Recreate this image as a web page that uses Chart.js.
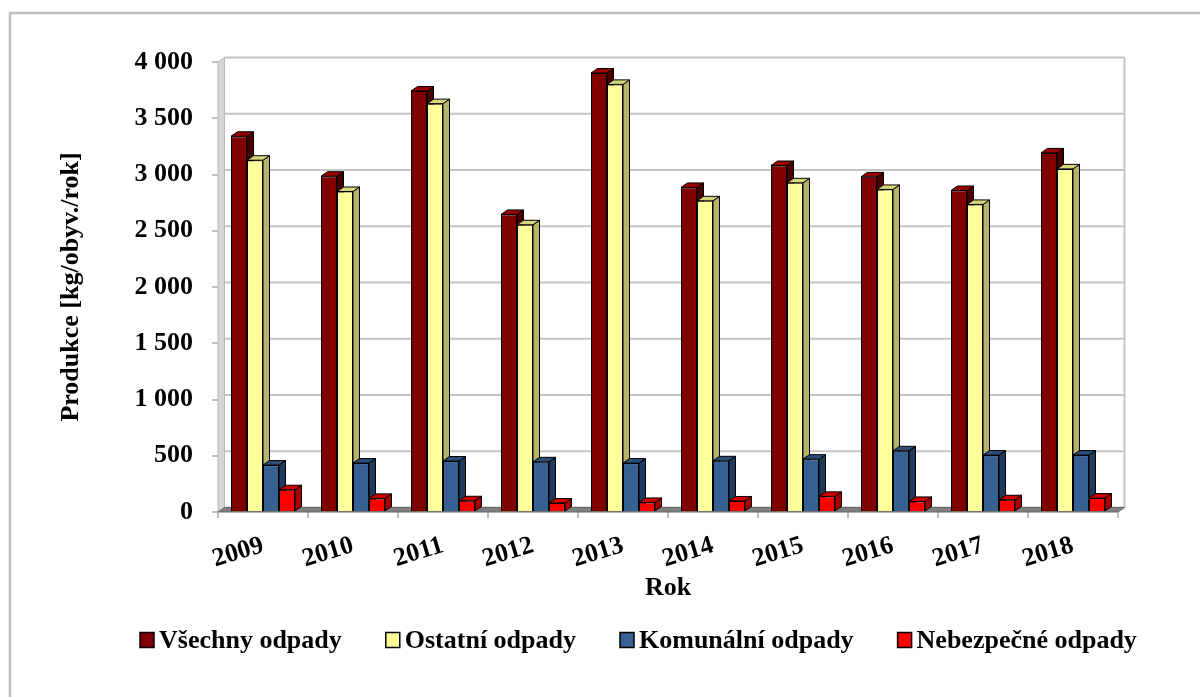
<!DOCTYPE html>
<html>
<head>
<meta charset="utf-8">
<script src="https://cdn.jsdelivr.net/npm/chart.js@4"></script>
<style>
  html, body { margin: 0; padding: 0; background: #ffffff; }
  #wrap { width: 1200px; height: 697px; position: relative; }
</style>
</head>
<body>
<div id="wrap"><canvas id="c"></canvas></div>
<script>
// data
const years = ['2009', '2010', '2011', '2012', '2013', '2014', '2015', '2016', '2017', '2018'];
const vsechny = [3340, 2985, 3742, 2645, 3902, 2885, 3080, 2979, 2858, 3192];
const ostatni = [3127, 2849, 3630, 2553, 3801, 2766, 2926, 2867, 2734, 3050];
const komunalni = [417, 435, 453, 446, 435, 455, 470, 544, 506, 506];
const nebezpecne = [198, 121, 100, 80, 85, 98, 139, 94, 109, 124];
const seriesNames = ['Všechny odpady', 'Ostatní odpady', 'Komunální odpady', 'Nebezpečné odpady'];
const yTicks = [0, 500, 1000, 1500, 2000, 2500, 3000, 3500, 4000];

const FONT = '"Liberation Serif", "Times New Roman", serif';
const FRONT = ['#800000', '#ffff99', '#376092', '#ff0000'];
const SIDE  = ['#4a0000', '#b4b46a', '#1f3a5c', '#a80000'];
const TOP   = ['#9a0000', '#d6d67e', '#2d4e78', '#d00000'];
const DX = 6.5, DY = 4.5;
const GRID = '#c4c4c4';

function fmt(v) {
  return String(v).replace(/\B(?=(\d{3})+(?!\d))/g, ' ');
}

function poly(ctx, pts, fill) {
  ctx.beginPath();
  ctx.moveTo(pts[0][0], pts[0][1]);
  for (let i = 1; i < pts.length; i++) ctx.lineTo(pts[i][0], pts[i][1]);
  ctx.closePath();
  ctx.fillStyle = fill;
  ctx.fill();
  ctx.stroke();
}

// back wall, floor and the depth faces of the bars
const bar3d = {
  id: 'bar3d',
  beforeDatasetsDraw(chart) {
    const { ctx, chartArea: a, scales: { y } } = chart;
    ctx.save();

    // gridlines on the back wall
    ctx.strokeStyle = GRID;
    ctx.lineWidth = 2;
    yTicks.forEach(v => {
      const py = y.getPixelForValue(v) - DY;
      ctx.beginPath();
      ctx.moveTo(a.left + DX, py);
      ctx.lineTo(a.right + DX, py);
      ctx.stroke();
    });
    ctx.beginPath();
    ctx.moveTo(a.right + DX, y.getPixelForValue(4000) - DY);
    ctx.lineTo(a.right + DX, y.getPixelForValue(0) - DY);
    ctx.stroke();

    // left wall
    const yt = y.getPixelForValue(4000), yb = y.getPixelForValue(0);
    ctx.lineWidth = 1;
    ctx.strokeStyle = '#b8b8b8';
    poly(ctx, [[a.left, yt], [a.left + DX, yt - DY], [a.left + DX, yb - DY], [a.left, yb]], '#d6d6d6');

    // floor
    ctx.strokeStyle = '#666666';
    poly(ctx, [[a.left, yb], [a.right, yb], [a.right + DX, yb - DY], [a.left + DX, yb - DY]], '#808080');

    // bar sides and tops
    ctx.strokeStyle = '#000000';
    ctx.lineWidth = 1;
    ctx.lineJoin = 'round';
    const n = chart.data.labels.length;
    for (let i = 0; i < n; i++) {
      for (let d = 0; d < chart.data.datasets.length; d++) {
        const el = chart.getDatasetMeta(d).data[i];
        const l = el.x - el.width / 2, r = el.x + el.width / 2, t = el.y, b = el.base;
        poly(ctx, [[r, t], [r + DX, t - DY], [r + DX, b - DY], [r, b]], SIDE[d]);
        poly(ctx, [[l, t], [l + DX, t - DY], [r + DX, t - DY], [r, t]], TOP[d]);
      }
    }
    ctx.restore();
  },
  afterDraw(chart) {
    const ctx = chart.ctx;
    ctx.save();
    // outer frame
    ctx.strokeStyle = '#bfbfbf';
    ctx.lineWidth = 2.5;
    ctx.strokeRect(10, 13, 1400, 1000);

    // legend
    ctx.font = 'bold 26px ' + FONT;
    ctx.textBaseline = 'middle';
    ctx.textAlign = 'left';
    let x = 140;
    const cy = 640;
    chart.data.datasets.forEach((ds, d) => {
      ctx.fillStyle = FRONT[d];
      ctx.strokeStyle = '#000000';
      ctx.lineWidth = 1.5;
      ctx.fillRect(x, cy - 7.5, 14, 15);
      ctx.strokeRect(x, cy - 7.5, 14, 15);
      x += 19;
      ctx.fillStyle = '#000000';
      ctx.fillText(ds.label, x, cy + 1);
      x += ctx.measureText(ds.label).width + 44;
    });
    ctx.restore();
  }
};

const datasets = [vsechny, ostatni, komunalni, nebezpecne].map((vals, d) => ({
  label: seriesNames[d],
  data: vals,
  backgroundColor: FRONT[d],
  borderColor: '#000000',
  borderWidth: 1,
  categoryPercentage: 64 / 90,
  barPercentage: 1
}));

new Chart(document.getElementById('c'), {
  type: 'bar',
  data: { labels: years, datasets: datasets },
  options: {
    responsive: true,
    maintainAspectRatio: false,
    animation: false,
    layout: { padding: { top: 62, right: 82, bottom: 93, left: 0 } },
    plugins: {
      legend: { display: false },
      tooltip: { enabled: false }
    },
    scales: {
      x: {
        grid: { display: true, drawOnChartArea: false, drawTicks: true, tickLength: 6, color: '#bfbfbf', lineWidth: 2 },
        border: { display: false },
        ticks: {
          color: '#000000',
          font: { family: FONT, size: 26, weight: 'bold' },
          minRotation: 17,
          maxRotation: 17,
          padding: 12
        },
        title: {
          display: true,
          text: 'Rok',
          color: '#000000',
          font: { family: FONT, size: 26, weight: 'bold' },
          padding: { top: 0, bottom: 0 }
        },
        afterFit(scale) { scale.height = 92; }
      },
      y: {
        min: 0,
        max: 4000,
        grid: { display: true, drawOnChartArea: false, drawTicks: true, tickLength: 6, color: '#bfbfbf', lineWidth: 2 },
        border: { display: false },
        ticks: {
          stepSize: 500,
          color: '#000000',
          font: { family: FONT, size: 26, weight: 'bold' },
          padding: 19,
          callback: v => fmt(v)
        },
        title: {
          display: true,
          text: 'Produkce [kg/obyv./rok]',
          color: '#000000',
          font: { family: FONT, size: 26, weight: 'bold' },
          padding: { top: 56, bottom: 0 }
        },
        afterFit(scale) { scale.width = 218; }
      }
    }
  },
  plugins: [bar3d]
});
</script>
</body>
</html>
